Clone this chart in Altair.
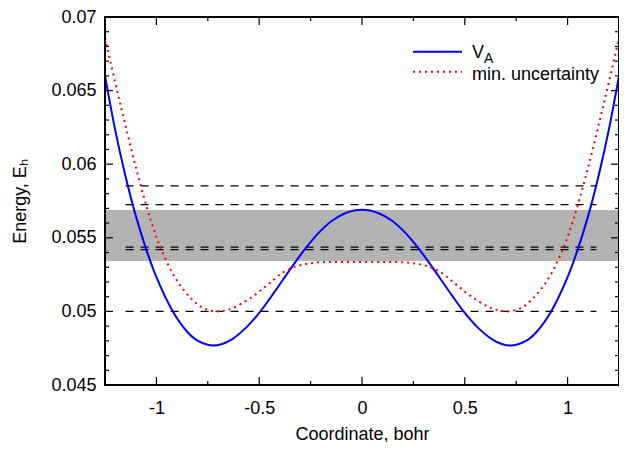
import altair as alt
import pandas as pd

# ---- data ----
va_x = [-1.25, -1.20, -1.15, -1.10, -1.05, -1.00, -0.92, -0.85, -0.80, -0.727, -0.68, -0.631,
        -0.56, -0.494, -0.44, -0.388, -0.332, -0.272, -0.210, -0.146, -0.081, 0.0,
        0.081, 0.146, 0.210, 0.272, 0.332, 0.388, 0.44, 0.494, 0.56, 0.631, 0.68, 0.727,
        0.80, 0.85, 0.92, 1.00, 1.05, 1.10, 1.15, 1.20, 1.25]
va_y = [0.0660, 0.0623, 0.05917, 0.05649, 0.05423, 0.05233, 0.0500, 0.04862, 0.04801, 0.04768,
        0.04779, 0.04812, 0.04895, 0.0500, 0.05104, 0.05208, 0.0532, 0.05433, 0.05535,
        0.05616, 0.05667, 0.0569,
        0.05667, 0.05616, 0.05535, 0.05433, 0.0532, 0.05208, 0.05104, 0.0500, 0.04895,
        0.04812, 0.04779, 0.04768, 0.04801, 0.04862, 0.0500, 0.05233, 0.05423, 0.05649,
        0.05917, 0.0623, 0.0660]

mu_x = [-1.25, -1.20, -1.155, -1.10, -1.045, -1.018, -0.985, -0.924, -0.88, -0.829, -0.775,
        -0.71, -0.66, -0.631, -0.534, -0.453, -0.38, -0.307, -0.227, -0.12, 0.0,
        0.12, 0.227, 0.307, 0.38, 0.453, 0.534, 0.631, 0.66, 0.71, 0.775, 0.829, 0.88, 0.924,
        0.985, 1.018, 1.045, 1.10, 1.155, 1.20, 1.25]
mu_y = [0.06855, 0.06553, 0.0629, 0.05979, 0.05699, 0.05579, 0.0545, 0.05265, 0.05169,
        0.05085, 0.05024, 0.0500, 0.05009, 0.0502, 0.05099, 0.05188, 0.05268, 0.05311,
        0.05331, 0.05336, 0.05336,
        0.05336, 0.05331, 0.05311, 0.05268, 0.05188, 0.05099, 0.0502, 0.05009, 0.0500,
        0.05024, 0.05085, 0.05169, 0.05265, 0.0545, 0.05579, 0.05699, 0.05979, 0.0629,
        0.06553, 0.06855]

band_lo = 0.05342
band_hi = 0.05689
level_y = [0.0500, 0.05420, 0.05437, 0.05725, 0.05853]
level_x_from = -1.15
level_x_to = 1.14

x_major = [-1.0, -0.5, 0.0, 0.5, 1.0]
x_minor = [-0.75, -0.25, 0.25, 0.75]
y_major = [0.045, 0.05, 0.055, 0.06, 0.065, 0.07]
y_minor = [0.046, 0.047, 0.048, 0.049, 0.051, 0.052, 0.053, 0.054, 0.056, 0.057, 0.058,
           0.059, 0.061, 0.062, 0.063, 0.064, 0.066, 0.067, 0.068, 0.069]

W, H = 514, 368
FONT = "Liberation Sans"
FS = 18

xs = alt.Scale(domain=[-1.25, 1.25], nice=False, zero=False)
ys = alt.Scale(domain=[0.045, 0.07], nice=False, zero=False)

x_axis = alt.Axis(values=x_major, labelExpr="'' + datum.value", ticks=False, domain=False,
                  grid=False, labelFont=FONT, labelFontSize=FS, labelColor="black",
                  labelPadding=14, title="Coordinate, bohr", titleFont=FONT,
                  titleFontSize=FS, titleFontWeight="normal", titleColor="black",
                  titlePadding=8)
y_axis = alt.Axis(values=y_major, labelExpr="'' + datum.value", ticks=False, domain=False,
                  grid=False, labelFont=FONT, labelFontSize=FS, labelColor="black",
                  labelPadding=9, title="Energy, Eₕ", titleFont=FONT,
                  titleFontSize=FS, titleFontWeight="normal", titleColor="black",
                  titlePadding=21)


def X(field):
    return alt.X(field, scale=xs, axis=x_axis)


def Y(field):
    return alt.Y(field, scale=ys, axis=y_axis)


band_df = pd.DataFrame({"x0": [-1.25], "x1": [1.25], "y0": [band_lo], "y1": [band_hi]})
band = alt.Chart(band_df).mark_rect(color="#b3b3b3").encode(
    x=X("x0:Q"), x2="x1:Q", y=Y("y0:Q"), y2="y1:Q",
)

lev_df = pd.DataFrame({"x0": [level_x_from] * len(level_y), "x1": [level_x_to] * len(level_y),
                       "y": level_y})
levels = alt.Chart(lev_df).mark_rule(color="black", strokeWidth=1.3, strokeDash=[8, 7]).encode(
    x=X("x0:Q"), x2="x1:Q", y=Y("y:Q"),
)

va_df = pd.DataFrame({"x": va_x, "y": va_y})
va = alt.Chart(va_df).mark_line(color="#0000ff", strokeWidth=2,
                                interpolate="catmull-rom").encode(
    x=X("x:Q"), y=Y("y:Q"),
)

mu_df = pd.DataFrame({"x": mu_x, "y": mu_y})
mu = alt.Chart(mu_df).mark_line(color="#ff0000", strokeWidth=2, strokeDash=[2, 4],
                                interpolate="catmull-rom").encode(
    x=X("x:Q"), y=Y("y:Q"),
)


def xticks(vals, length):
    df = pd.DataFrame({"v": vals})
    base = alt.Chart(df).mark_rule(color="black", strokeWidth=1.2)
    bot = base.encode(x=X("v:Q"), y=alt.value(H), y2=alt.value(H - length))
    top = base.encode(x=X("v:Q"), y=alt.value(0), y2=alt.value(length))
    return [bot, top]


def yticks(vals, length):
    df = pd.DataFrame({"v": vals})
    base = alt.Chart(df).mark_rule(color="black", strokeWidth=1.2)
    lef = base.encode(y=Y("v:Q"), x=alt.value(0), x2=alt.value(length))
    rig = base.encode(y=Y("v:Q"), x=alt.value(W), x2=alt.value(W - length))
    return [lef, rig]


ticks = xticks(x_major, 8) + xticks(x_minor, 4) + yticks(y_major, 8) + yticks(y_minor, 4)

one = pd.DataFrame({"a": [0]})
frame = alt.Chart(one).mark_rect(filled=False, stroke="black", strokeWidth=2).encode(
    x=alt.value(0), x2=alt.value(W), y=alt.value(0), y2=alt.value(H))

leg_va_line = alt.Chart(one).mark_rule(color="#0000ff", strokeWidth=2).encode(
    x=alt.value(308), x2=alt.value(357), y=alt.value(34.7))
leg_mu_line = alt.Chart(one).mark_rule(color="#ff0000", strokeWidth=2, strokeDash=[2, 4]).encode(
    x=alt.value(308), x2=alt.value(357), y=alt.value(54.7))

leg_V = alt.Chart(pd.DataFrame({"t": ["V"]})).mark_text(
    align="left", baseline="alphabetic", font=FONT, fontSize=FS, color="black").encode(
    text="t:N", x=alt.value(367), y=alt.value(41.3))
leg_A = alt.Chart(pd.DataFrame({"t": ["A"]})).mark_text(
    align="left", baseline="alphabetic", font=FONT, fontSize=14, color="black").encode(
    text="t:N", x=alt.value(379), y=alt.value(45.5))
leg_mu = alt.Chart(pd.DataFrame({"t": ["min. uncertainty"]})).mark_text(
    align="left", baseline="alphabetic", font=FONT, fontSize=FS, color="black").encode(
    text="t:N", x=alt.value(367), y=alt.value(63))

chart = alt.layer(band, levels, va, mu, *ticks, frame, leg_va_line, leg_mu_line,
                  leg_V, leg_A, leg_mu).properties(
    width=W, height=H,
    padding={"left": 97, "top": 9, "right": 0, "bottom": 57},
    autosize=alt.AutoSizeParams(type="none"),
).configure_view(stroke=None)

chart.save("out.html", embed_options={"renderer": "svg", "actions": False})
